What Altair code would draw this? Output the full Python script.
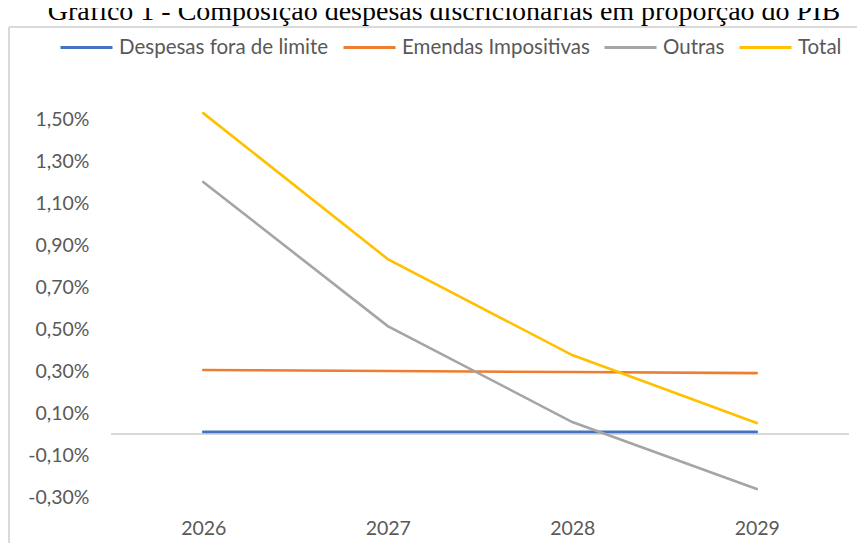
import altair as alt
import pandas as pd

years = ["2026", "2027", "2028", "2029"]
series_names = ["Despesas fora de limite", "Emendas Impositivas", "Outras", "Total"]
despesas_fora = [0.01, 0.01, 0.01, 0.01]
emendas = [0.305, 0.30, 0.295, 0.29]
outras = [1.20, 0.514, 0.057, -0.262]
total = [1.528, 0.833, 0.376, 0.052]
colors = ["#4472C4", "#ED7D31", "#A5A5A5", "#FFC000"]
y_ticks = [-0.3, -0.1, 0.1, 0.3, 0.5, 0.7, 0.9, 1.1, 1.3, 1.5]
title_text = "Gráfico 1 - Composição despesas discricionárias em proporção do PIB"

rows = []
for name, vals in zip(series_names, [despesas_fora, emendas, outras, total]):
    for yr, v in zip(years, vals):
        rows.append({"ano": yr, "serie": name, "valor": v})
df = pd.DataFrame(rows)
title_df = pd.DataFrame({"t": [title_text]})

label_font = "Lato"
gray_text = "#595959"

yscale = alt.Scale(domain=[-0.3, 1.5], nice=False, zero=False)

title_mark = alt.Chart(title_df).mark_text(
    font="Liberation Serif", fontSize=28, color="#000000",
    align="center", baseline="alphabetic",
).encode(text="t:N", x=alt.value(333), y=alt.value(-99))

zero_rule = alt.Chart(df).mark_rule(color="#D9D9D9", strokeWidth=1.4).encode(
    y=alt.datum(0, scale=yscale)
)

frame = alt.Chart(df).mark_rect(
    fill=None, stroke="#D9D9D9", strokeWidth=1
).encode(
    x=alt.value(-102), x2=alt.value(900), y=alt.value(-92), y2=alt.value(700)
)

lines = alt.Chart(df).mark_line(strokeWidth=2.6, strokeCap="round").encode(
    x=alt.X(
        "ano:O",
        scale=alt.Scale(type="point", padding=0.5),
        sort=years,
        axis=alt.Axis(
            title=None, domain=False, ticks=False, labelAngle=0,
            labelFont=label_font, labelFontSize=19.5, labelColor=gray_text,
            labelPadding=22, grid=False,
        ),
    ),
    y=alt.Y(
        "valor:Q",
        scale=yscale,
        axis=alt.Axis(
            title=None, domain=False, ticks=False, grid=False,
            values=y_ticks,
            labelExpr="(datum.value < -0.0001 ? '-' : '') + replace(format(abs(datum.value), '.2f'), '.', ',') + '%'",
            labelFont=label_font, labelFontSize=19.5, labelColor=gray_text,
            labelPadding=22,
        ),
    ),
    color=alt.Color(
        "serie:N",
        scale=alt.Scale(domain=series_names, range=colors),
        legend=alt.Legend(
            orient="none", legendX=-52, legendY=-99, direction="horizontal",
            title=None, symbolType="stroke", symbolSize=2704,
            symbolStrokeWidth=3, labelFont=label_font, labelFontSize=20.5,
            labelColor=gray_text, labelOffset=5, columnPadding=8, padding=0,
            labelLimit=1000,
        ),
    ),
)

chart = alt.layer(frame, title_mark, zero_rule, lines).properties(
    width=738,
    height=378,
    autosize=alt.AutoSizeParams(type="none"),
    padding={"left": 103, "top": 111, "right": 8, "bottom": 46},
).configure_view(stroke=None)

chart.save("out.html", embed_options={"renderer": "svg", "actions": False})
